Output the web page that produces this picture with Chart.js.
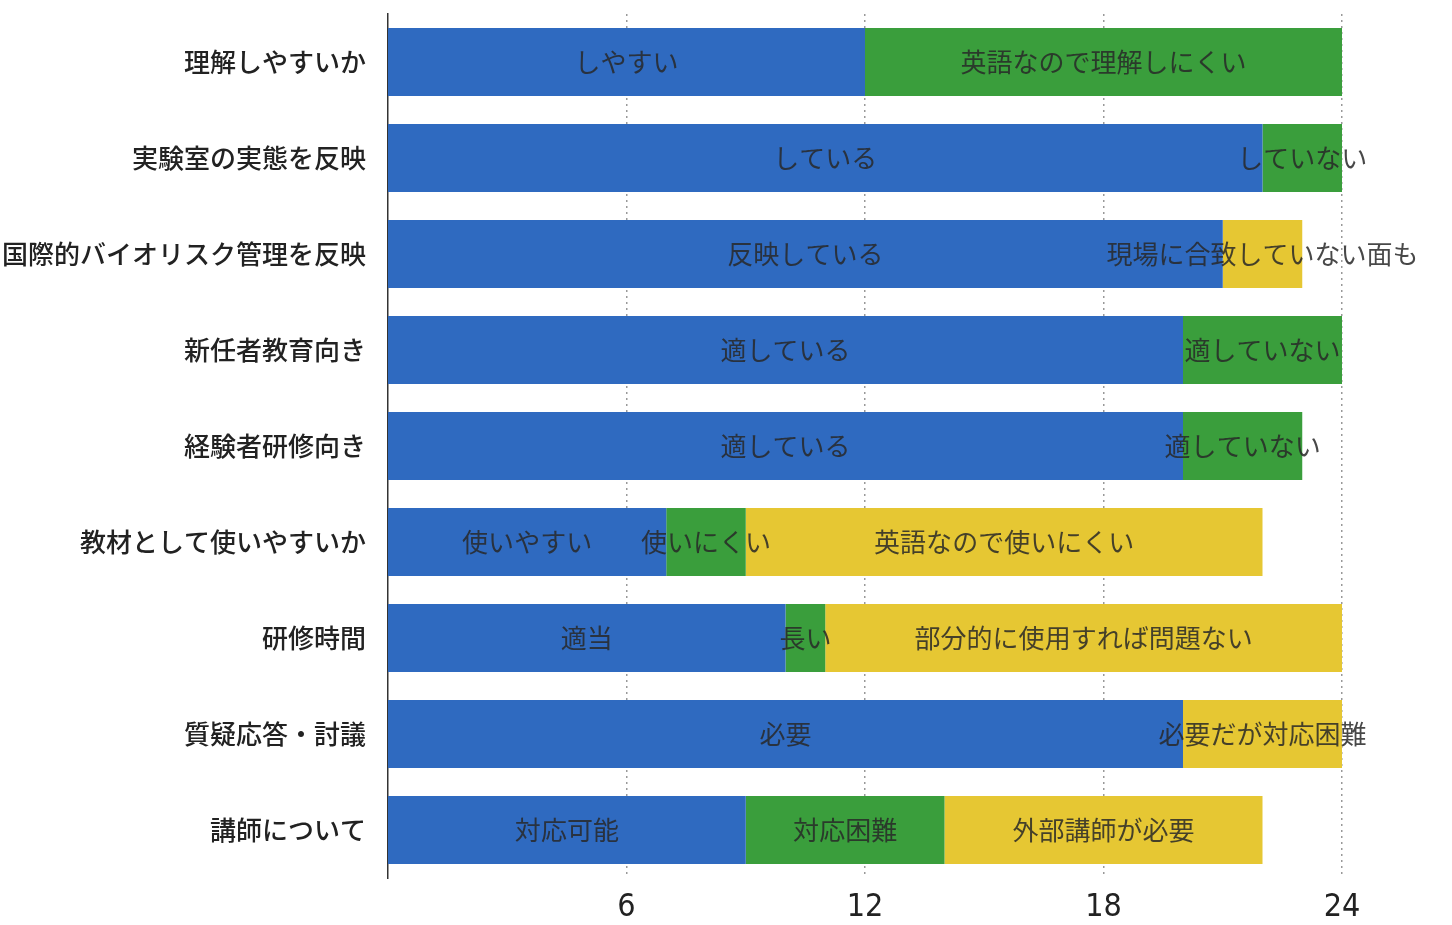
<!DOCTYPE html>
<html>
<head>
<meta charset="utf-8">
<script src="https://cdn.jsdelivr.net/npm/chart.js@4.4.1/dist/chart.umd.min.js"></script>
<style>
  html, body { margin: 0; padding: 0; background: #fff; }
  #wrap { width: 1452px; height: 925px; position: relative; }
</style>
</head>
<body>
<div id="wrap"><canvas id="chart"></canvas></div>
<script>
// 評価項目
const categories = [
  '理解しやすいか',
  '実験室の実態を反映',
  '国際的バイオリスク管理を反映',
  '新任者教育向き',
  '経験者研修向き',
  '教材として使いやすいか',
  '研修時間',
  '質疑応答・討議',
  '講師について'
];

// 回答数 (青 / 緑 / 黄)
const blueVals   = [12, 22, 21, 20, 20, 7, 10, 20, 9];
const greenVals  = [12, 2, null, 4, 3, 2, 1, null, 5];
const yellowVals = [null, null, 2, null, null, 13, 13, 4, 8];

// バーの中の文字
const blueText   = ['しやすい', 'している', '反映している', '適している', '適している', '使いやすい', '適当', '必要', '対応可能'];
const greenText  = ['英語なので理解しにくい', 'していない', '', '適していない', '適していない', '使いにくい', '長い', '', '対応困難'];
const yellowText = ['', '', '現場に合致していない面も', '', '', '英語なので使いにくい', '部分的に使用すれば問題ない', '必要だが対応困難', '外部講師が必要'];

const xTicks = [6, 12, 18, 24];

const jp = '"Noto Sans CJK JP", "Noto Sans", sans-serif';

// バーに文字を書く
const barText = {
  id: 'barText',
  afterDatasetsDraw(chart) {
    const ctx = chart.ctx;
    ctx.save();
    ctx.font = '26px ' + jp;
    ctx.fillStyle = 'rgba(40,40,40,0.85)';
    ctx.textAlign = 'center';
    ctx.textBaseline = 'middle';
    chart.data.datasets.forEach((ds, i) => {
      const meta = chart.getDatasetMeta(i);
      meta.data.forEach((bar, j) => {
        const t = ds.texts[j];
        if (!t || ds.data[j] == null) return;
        const cx = (bar.base + bar.x) / 2;
        ctx.fillText(t, cx, bar.y);
      });
    });
    ctx.restore();
  }
};

new Chart(document.getElementById('chart'), {
  type: 'bar',
  data: {
    labels: categories,
    datasets: [
      { data: blueVals, texts: blueText, backgroundColor: '#2f6ac0' },
      { data: greenVals, texts: greenText, backgroundColor: '#3a9e3c' },
      { data: yellowVals, texts: yellowText, backgroundColor: '#e6c733' }
    ]
  },
  options: {
    indexAxis: 'y',
    responsive: true,
    maintainAspectRatio: false,
    animation: false,
    layout: { padding: { left: 0, right: 110, top: 14, bottom: 0 } },
    plugins: {
      legend: { display: false },
      tooltip: { enabled: false }
    },
    datasets: {
      bar: { barPercentage: 0.71, categoryPercentage: 1.0 }
    },
    scales: {
      x: {
        stacked: true,
        min: 0,
        max: 24,
        afterBuildTicks(scale) {
          scale.ticks = xTicks.map(v => ({ value: v }));
        },
        afterFit(scale) { scale.height = 47; },
        ticks: {
          color: '#222',
          padding: 10,
          font: { family: '"DejaVu Sans Condensed", "Liberation Sans Narrow", sans-serif', size: 32 }
        },
        grid: {
          color: '#999',
          lineWidth: 1.5,
          drawTicks: false
        },
        border: { display: false, dash: [2, 4] }
      },
      y: {
        stacked: true,
        afterFit(scale) {
          scale.width = 388;
          scale.paddingTop = 0;
          scale.paddingBottom = 0;
        },
        ticks: {
          color: '#222',
          padding: 14,
          font: { family: jp, size: 26, weight: '500' }
        },
        grid: { display: false },
        border: { color: '#333', width: 1.5 }
      }
    }
  },
  plugins: [barText]
});
</script>
</body>
</html>
